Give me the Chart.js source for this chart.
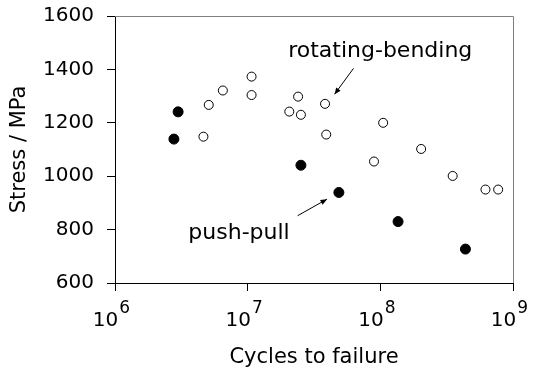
<!DOCTYPE html>
<html>
<head>
<meta charset="utf-8">
<script src="https://cdn.jsdelivr.net/npm/chart.js@4.4.1/dist/chart.umd.min.js"></script>
<style>
  body { margin: 0; background: #fff; }
  #wrap { width: 544px; height: 377px; }
</style>
</head>
<body>
<div id="wrap"><canvas id="fatigueChart" width="544" height="377"></canvas></div>
<script>
// rotating-bending tests (open circles)
var rbCycles = [4.64e6, 5.09e6, 6.5e6, 1.07e7, 1.07e7, 2.06e7, 2.4e7, 2.52e7, 3.83e7, 3.91e7, 8.96e7, 1.05e8, 2.03e8, 3.51e8, 6.2e8, 7.73e8];
var rbStress = [1148, 1267, 1321, 1373, 1304, 1242, 1298, 1230, 1271, 1156, 1055, 1200, 1102, 1001, 950, 950];
// push-pull tests (filled circles)
var ppCycles = [2.78e6, 2.99e6, 2.52e7, 4.87e7, 1.36e8, 4.38e8];
var ppStress = [1139, 1241, 1041, 939, 830, 727];
// axes
var xTickExponents = [6, 7, 8, 9];
var yTicks = [600, 800, 1000, 1200, 1400, 1600];
// callouts, in data units: text start, arrow tail, arrow head
var noteLabels = ['rotating-bending', 'push-pull'];
var noteAt = [[2.02e7, 1447], [3.57e6, 765]];
var arrowFrom = [[6.28e7, 1404], [2.38e7, 852]];
var arrowTo = [[4.52e7, 1307], [3.96e7, 914]];

var FONT = '"DejaVu Sans", Verdana, sans-serif';

function toPoints(xs, ys) {
    return xs.map(function (v, i) { return { x: v, y: ys[i] }; });
}

var extras = {
    id: 'extras',
    beforeDatasetsDraw: function (chart) {
        var ctx = chart.ctx, a = chart.chartArea;
        ctx.save();
        ctx.strokeStyle = '#808080';
        ctx.lineWidth = 1;
        ctx.beginPath();
        ctx.moveTo(a.left, Math.round(a.top) + 0.5);
        ctx.lineTo(Math.round(a.right) + 0.5, Math.round(a.top) + 0.5);
        ctx.lineTo(Math.round(a.right) + 0.5, a.bottom);
        ctx.stroke();
        ctx.restore();
    },
    afterDraw: function (chart) {
        var ctx = chart.ctx, xs = chart.scales.x, ys = chart.scales.y;
        ctx.save();
        ctx.fillStyle = '#000';
        ctx.textBaseline = 'alphabetic';
        // 10^n labels under the x axis
        xTickExponents.forEach(function (e) {
            var px = xs.getPixelForValue(Math.pow(10, e));
            ctx.font = '20px ' + FONT;
            var wb = ctx.measureText('10').width;
            ctx.font = '17px ' + FONT;
            var we = ctx.measureText(String(e)).width;
            var left = px - (wb + we) / 2 - 4;
            ctx.font = '20px ' + FONT;
            ctx.fillText('10', left, 326);
            ctx.font = '17px ' + FONT;
            ctx.fillText(String(e), left + wb + 1, 313);
        });
        // callouts
        ctx.font = '22px ' + FONT;
        ctx.strokeStyle = '#000';
        ctx.lineWidth = 1;
        noteLabels.forEach(function (txt, i) {
            ctx.fillText(txt, xs.getPixelForValue(noteAt[i][0]), ys.getPixelForValue(noteAt[i][1]));
            var x0 = xs.getPixelForValue(arrowFrom[i][0]), y0 = ys.getPixelForValue(arrowFrom[i][1]);
            var x1 = xs.getPixelForValue(arrowTo[i][0]), y1 = ys.getPixelForValue(arrowTo[i][1]);
            var ang = Math.atan2(y1 - y0, x1 - x0);
            ctx.beginPath();
            ctx.moveTo(x0, y0);
            ctx.lineTo(x1, y1);
            ctx.stroke();
            ctx.beginPath();
            ctx.moveTo(x1, y1);
            ctx.lineTo(x1 - 7 * Math.cos(ang - 0.4), y1 - 7 * Math.sin(ang - 0.4));
            ctx.lineTo(x1 - 7 * Math.cos(ang + 0.4), y1 - 7 * Math.sin(ang + 0.4));
            ctx.closePath();
            ctx.fill();
        });
        ctx.restore();
    }
};

document.addEventListener('DOMContentLoaded', () => {
    const ctx = document.getElementById('fatigueChart').getContext('2d');
    new Chart(ctx, {
        type: 'scatter',
        data: {
            datasets: [{
                label: 'rotating-bending',
                data: toPoints(rbCycles, rbStress),
                backgroundColor: '#ffffff',
                borderColor: '#000000',
                borderWidth: 1,
                pointRadius: 4.5
            }, {
                label: 'push-pull',
                data: toPoints(ppCycles, ppStress),
                backgroundColor: '#000000',
                borderColor: '#000000',
                borderWidth: 1,
                pointRadius: 5
            }]
        },
        options: {
            responsive: false,
            animation: false,
            layout: { padding: { left: 0, right: 31, top: 16, bottom: 0 } },
            scales: {
                x: {
                    type: 'logarithmic',
                    min: 1e6,
                    max: 1e9,
                    afterBuildTicks: function (scale) {
                        scale.ticks = xTickExponents.map(function (e) { return { value: Math.pow(10, e), major: true }; });
                    },
                    afterFit: function (scale) {
                        scale.height = 94;
                        scale.paddingLeft = 0;
                        scale.paddingRight = 0;
                    },
                    ticks: { display: false },
                    grid: { drawOnChartArea: false, tickLength: 8, color: '#000' },
                    border: { color: '#000' },
                    title: {
                        display: true,
                        text: 'Cycles to failure',
                        color: '#000',
                        font: { family: FONT, size: 21 },
                        padding: { bottom: 7 }
                    }
                },
                y: {
                    min: 600,
                    max: 1600,
                    afterBuildTicks: function (scale) {
                        scale.ticks = yTicks.map(function (v) { return { value: v }; });
                    },
                    afterFit: function (scale) {
                        scale.width = 115;
                        scale.paddingTop = 0;
                        scale.paddingBottom = 0;
                    },
                    ticks: {
                        color: '#000',
                        padding: 13,
                        font: { family: FONT, size: 20 },
                        callback: function (v) { return String(v); }
                    },
                    grid: { drawOnChartArea: false, tickLength: 8, color: '#000' },
                    border: { color: '#000' },
                    title: {
                        display: true,
                        text: 'Stress / MPa',
                        color: '#000',
                        font: { family: FONT, size: 21 },
                        padding: { top: 7 }
                    }
                }
            },
            plugins: {
                legend: { display: false },
                tooltip: { enabled: false }
            }
        },
        plugins: [extras]
    });
});
</script>
</body>
</html>
